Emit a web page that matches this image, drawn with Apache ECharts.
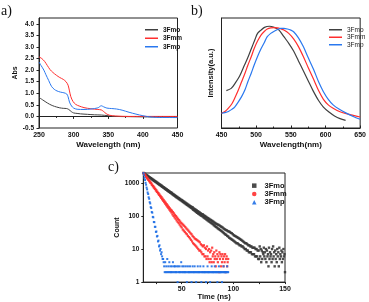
<!DOCTYPE html>
<html><head><meta charset="utf-8">
<script src="https://cdn.jsdelivr.net/npm/echarts@6/dist/echarts.min.js"></script>
<style>html,body{margin:0;padding:0;background:#fff}#c{width:369px;height:302px}</style>
</head><body><div id="c"></div>
<script>
// ---------- panel a: absorption ----------
const absMoWl = [250,255,260,265,270,275,280,285,290,293,297,300,305,310,320,330,340,350,360,380,400,450];
const absMo   = [0.82,0.72,0.62,0.53,0.46,0.41,0.37,0.35,0.34,0.30,0.20,0.15,0.13,0.11,0.09,0.07,0.06,0.03,0.0,-0.01,-0.02,-0.03];
const absMmWl = [250,254,258,262,266,270,275,280,285,289,292,294,296,299,303,308,315,325,335,340,343,347,352,360,380,450];
const absMm   = [2.57,2.5,2.38,2.2,2.02,1.9,1.78,1.68,1.6,1.5,1.35,1.1,0.85,0.65,0.52,0.45,0.38,0.33,0.30,0.28,0.22,0.12,0.05,0.02,0.0,0.0];
const absMpWl = [250,253,257,260,264,268,272,276,281,286,290,292,294,297,300,305,315,325,335,340,343,348,355,362,370,380,390,400,410,420,450];
const absMp   = [2.35,2.2,2.0,1.8,1.55,1.3,1.17,1.1,1.05,1.02,0.97,0.85,0.62,0.45,0.36,0.31,0.30,0.32,0.37,0.46,0.42,0.36,0.34,0.32,0.27,0.18,0.1,0.03,-0.02,-0.04,-0.05];

// ---------- panel b: emission ----------
const plMoWl = [457,464,470,476,483,488,493,498,502,507,512,519,526,533,540,547,554,561,568,575,582,590,597,605,613,621,629];
const plMo   = [0.34,0.36,0.41,0.47,0.57,0.64,0.72,0.80,0.86,0.89,0.915,0.925,0.915,0.89,0.83,0.77,0.70,0.61,0.52,0.43,0.34,0.25,0.19,0.145,0.11,0.085,0.07];
const plMmWl = [450,455,460,465,469,474,479,484,488,493,497,502,507,512,516,521,526,531,536,540,547,554,561,568,575,583,590,597,604,611,620,630,640,650];
const plMm   = [0.134,0.15,0.18,0.22,0.27,0.34,0.42,0.50,0.57,0.65,0.72,0.79,0.845,0.88,0.90,0.91,0.912,0.91,0.90,0.89,0.86,0.81,0.74,0.65,0.55,0.44,0.34,0.26,0.21,0.18,0.15,0.13,0.115,0.10];
const plMpWl = [450,455,460,465,469,474,479,484,488,493,497,502,507,512,516,521,526,531,535,540,545,550,554,561,568,575,583,590,597,604,611,620,630,640,650];
const plMp   = [0.134,0.14,0.15,0.17,0.19,0.235,0.285,0.35,0.42,0.50,0.57,0.65,0.72,0.78,0.83,0.86,0.88,0.895,0.905,0.905,0.90,0.89,0.875,0.82,0.74,0.64,0.53,0.42,0.33,0.26,0.21,0.17,0.135,0.105,0.08];

// ---------- panel c: decay (time bins start 13 ns, 0.5 ns wide) ----------
const binStart = 13, binWidth = 0.5;
const decayMo = [
 2000,1930,1880,1870,1790,1740,1720,1650,1640,1560,1550,1490,1470,1410,1400,
 1380,1300,1310,1230,1240,1170,1180,1110,1120,1060,1070,1000,1010,950,960,900,910,860,870,810,
 830,770,780,730,745,695,705,655,670,625,640,590,605,560,575,535,545,505,520,480,
 500,455,465,430,445,410,420,385,400,365,380,350,360,330,345,315,325,300,310,285,
 300,270,280,255,268,243,255,230,242,218,230,207,218,197,208,187,198,178,188,168,
 185,155,170,148,162,140,155,132,148,125,140,118,133,113,127,107,120,102,114,98,
 112,92,104,87,100,83,95,78,90,74,86,70,82,67,78,63,75,60,71,57,
 68,53,64,50,61,47,58,45,56,42,54,40,52,38,49,36,47,34,45,32,
 42,30,40,28,38,27,37,25,35,24,34,22,33,21,31,20,30,19,28,18,
 26,17,25,16,24,15,23,15,22,14,21,13,20,13,19,12,18,12,17,11,
 16,10,15,10,15,9,14,9,13,8,13,8,12,8,12,7,11,7,11,7,
 11,6,10,6,10,6,9,5,9,5,12,6,10,4,9,5,8,7,11,6,
 8,5,10,4,9,6,7,3,11,5,8,6,7,4,10,5,12,6,8,3,
 9,5,7,4,10,6,8,3,11,5,7,6,9,4,8,5,10,6,7,2];
const decayMm = [
 2000,1880,1830,1700,1660,1540,1500,1390,1360,1260,1235,1140,1120,1030,1015,
 975,885,880,800,800,725,725,655,660,590,600,535,540,485,492,438,446,395,405,357,
 370,320,335,290,305,262,276,236,252,212,228,192,207,174,188,157,170,141,155,128,
 145,112,132,101,120,91,108,83,99,74,90,67,82,61,75,55,68,49,62,45,
 58,39,54,36,50,33,46,30,42,28,39,25,36,23,33,21,30,19,28,17,
 25,15,23,14,21,13,20,12,19,11,18,10,17,9,16,9,14,8,13,7,
 12,7,13,6,11,6,10,5,12,6,9,5,10,4,8,5,9,4,11,6,
 7,4,8,5,6,3,9,5,7,4,6,2,8,5,7,3,6,4,7,5,3,6,4,7,2,5,6,3,4,5];
const decayMp = [
 2000,1700,1420,1230,1010,885,725,640,515,462,368,332,262,240,186,174,132,126,94,91,
 66,65,47,47,33,34,24,25,17,18,12,13,9,10,7,8,6,5,5,4,
 3,2,4,2,3,2,5,2,3,2,4,2,3,2,2,3,2,4,2,3,
 2,3,2,2,3,2,1,3,2,2,3,2,2,4,2,3,2,2,3,2,
 2,2,3,2,1,2,3,2,2,2,3,2,2,1,2,3,2,2,2,3,
 2,2,1,2,2,3,2,2,2,2,3,2,1,2,2,2,3,2,2,2,
 2,1,2,2,3,2,2,2,2,1,2,2,3,2,2,2,2,2,3,2,
 2,2,2,1,2,2,3,2,2,2,2,2,1,2,2,3,2,2,2,2,2,2,3,2,2];

const seriesNames = ['3Fmo','3Fmm','3Fmp'];
const lineColors = ['#404040','#ff2e2e','#2a78ef'];
const dotColors = ['#383838','#ff3030','#1f6fe6'];

const zip = (xs, ys) => xs.map((x, i) => [x, ys[i]]);
const bins = arr => arr.map((c, i) => [binStart + i * binWidth, c]);

const F = '"Liberation Sans", Arial, sans-serif';
const lab = (size, extra) => Object.assign({color:'#111', fontFamily:F, fontWeight:'bold', fontSize:size}, extra||{});
const boxGrid = g => Object.assign({show:true, borderColor:'#222', borderWidth:1, backgroundColor:'transparent'}, g);

const chart = echarts.init(document.getElementById('c'), null, {renderer:'canvas'});
const lineSeries = (name, x, y, g, color, w) => ({
  name, type:'line', xAxisIndex:g, yAxisIndex:g, data:zip(x,y), symbol:'none', smooth:0.3,
  lineStyle:{color, width:w}, itemStyle:{color}, animation:false
});
const dotSeries = (name, arr, color, size, shape) => ({
  name, type:'scatter', xAxisIndex:2, yAxisIndex:2, data:bins(arr), symbol:shape, symbolSize:size,
  itemStyle:{color, opacity:0.9}, animation:false
});

chart.setOption({
  animation:false,
  grid:[
    boxGrid({left:39, top:18, width:138.5, height:110}),
    boxGrid({left:221.5, top:18, width:141, height:110}),
    boxGrid({left:143.3, top:173, width:141.7, height:110})
  ],
  xAxis:[
    {gridIndex:0, type:'value', min:250, max:450, interval:50,
     name:'Wavelength (nm)', nameLocation:'middle', nameGap:13, nameTextStyle:lab(8),
     axisLine:{lineStyle:{color:'#222'}}, axisTick:{length:2.5, lineStyle:{color:'#222'}},
     minorTick:{show:true, splitNumber:2, length:1.5, lineStyle:{color:'#222'}},
     axisLabel:lab(7, {margin:4}), splitLine:{show:false}},
    {gridIndex:1, type:'value', min:450, max:650, interval:50,
     name:'Wavelength(nm)', nameLocation:'middle', nameGap:13, nameTextStyle:lab(8),
     axisLine:{lineStyle:{color:'#222'}}, axisTick:{inside:true, length:2.5, lineStyle:{color:'#222'}},
     minorTick:{show:true, splitNumber:2, length:1.5, lineStyle:{color:'#222'}},
     axisLabel:lab(7, {margin:4}), splitLine:{show:false}},
    {gridIndex:2, type:'value', min:12.8, max:150,
     name:'Time (ns)', nameLocation:'middle', nameGap:9, nameTextStyle:lab(7.5),
     axisLine:{lineStyle:{color:'#222'}},
     axisTick:{customValues:[25,50,75,100,125,150], length:2, lineStyle:{color:'#222'}},
     axisLabel:lab(7, {customValues:[50,100,150], margin:3}), splitLine:{show:false}}
  ],
  yAxis:[
    {gridIndex:0, type:'value', min:-0.5, max:4.25, interval:0.5,
     name:'Abs', nameLocation:'middle', nameGap:19, nameTextStyle:lab(7),
     axisLine:{lineStyle:{color:'#222'}}, axisTick:{length:2.5, lineStyle:{color:'#222'}},
     axisLabel:lab(6.5, {margin:5, showMaxLabel:false, formatter:v => v.toFixed(1)}), splitLine:{show:false}},
    {gridIndex:1, type:'value', min:0, max:1,
     name:'Intensity(a.u.)', nameLocation:'middle', nameGap:7, nameTextStyle:lab(7.5),
     axisLine:{lineStyle:{color:'#222'}}, axisTick:{show:false}, axisLabel:{show:false}, splitLine:{show:false}},
    {gridIndex:2, type:'log', logBase:10, min:1, max:2000,
     name:'Count', nameLocation:'middle', nameGap:18, nameTextStyle:lab(7),
     axisLine:{lineStyle:{color:'#222'}}, axisTick:{length:2, lineStyle:{color:'#222'}},
     axisLabel:lab(6.5, {margin:4, showMaxLabel:false, formatter:v => String(Math.round(v))}), splitLine:{show:false}}
  ],
  legend:[
    {left:140, top:20.5, orient:'vertical', itemWidth:13, itemHeight:1.5, itemGap:0,
     data:seriesNames.map(n => ({name:'a-' + n, icon:'rect'})), formatter:n => n.slice(2),
     textStyle:lab(6.5, {lineHeight:8.5})},
    {left:324, top:21, orient:'vertical', itemWidth:13, itemHeight:1.5, itemGap:0,
     data:seriesNames.map(n => ({name:'b-' + n, icon:'rect'})), formatter:n => n.slice(2),
     textStyle:{color:'#222', fontFamily:F, fontSize:6.5, lineHeight:7.5}},
    {left:247, top:176.5, orient:'vertical', itemWidth:4.5, itemHeight:4.5, itemGap:0,
     data:[{name:'c-3Fmo', icon:'rect'},{name:'c-3Fmm', icon:'circle'},{name:'c-3Fmp', icon:'triangle'}],
     formatter:n => n.slice(2), textStyle:lab(7.5, {lineHeight:8.3, padding:[0,0,0,3]})}
  ],
  graphic:[
    {type:'text', left:1, top:4, style:{text:'a)', font:'14px "Liberation Serif", serif', fill:'#111'}},
    {type:'text', left:191, top:4, style:{text:'b)', font:'14px "Liberation Serif", serif', fill:'#111'}},
    {type:'text', left:108, top:160, style:{text:'c)', font:'14px "Liberation Serif", serif', fill:'#111'}}
  ],
  series:[
    lineSeries('a-3Fmo', absMoWl, absMo, 0, lineColors[0], 1),
    lineSeries('a-3Fmm', absMmWl, absMm, 0, lineColors[1], 1),
    lineSeries('a-3Fmp', absMpWl, absMp, 0, lineColors[2], 1),
    lineSeries('b-3Fmo', plMoWl, plMo, 1, lineColors[0], 1.2),
    lineSeries('b-3Fmm', plMmWl, plMm, 1, lineColors[1], 1.2),
    lineSeries('b-3Fmp', plMpWl, plMp, 1, lineColors[2], 1.2),
    dotSeries('c-3Fmo', decayMo, dotColors[0], 2.4, 'rect'),
    dotSeries('c-3Fmm', decayMm, dotColors[1], 2.2, 'rect'),
    dotSeries('c-3Fmp', decayMp, dotColors[2], 2, 'rect')
  ]
});
</script></body></html>
